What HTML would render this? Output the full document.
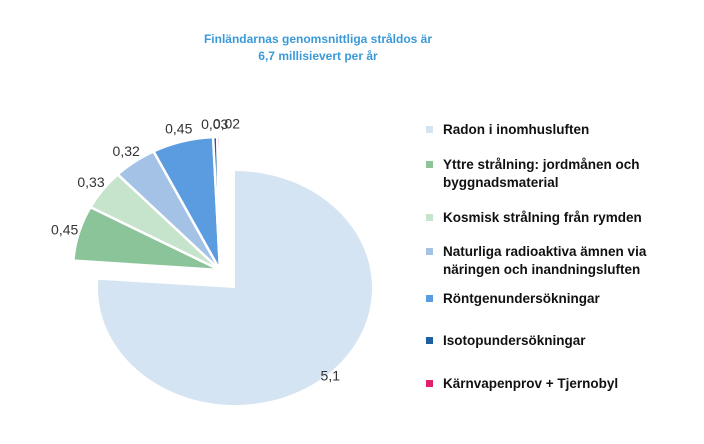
<!DOCTYPE html>
<html><head><meta charset="utf-8"><style>
body{margin:0;background:#fff;width:704px;height:444px;overflow:hidden;font-family:"Liberation Sans",sans-serif}
.t{position:absolute;left:0;width:636px;text-align:center;color:#3a9ad9;font-weight:bold;font-size:12px;line-height:17px}
.lg{position:absolute;left:426px;font-size:13.5px;font-weight:bold;color:#111;line-height:18px}
.lg i{position:absolute;left:0;top:5px;width:7px;height:7px}
.lg span{display:block;margin-left:17px}
</style></head><body>
<div class="t" style="top:31px">Finländarnas genomsnittliga stråldos är<br>6,7 millisievert per år</div>
<svg id="pie" width="704" height="444" style="position:absolute;left:0;top:0"></svg>
<div>
<div class="lg" style="top:121px"><i style="background:#d4e4f2"></i><span>Radon i inomhusluften</span></div>
<div class="lg" style="top:156px"><i style="background:#8cc49a"></i><span>Yttre strålning: jordmånen och<br>byggnadsmaterial</span></div>
<div class="lg" style="top:209px"><i style="background:#c6e3cc"></i><span>Kosmisk strålning från rymden</span></div>
<div class="lg" style="top:243px"><i style="background:#a4c2e6"></i><span>Naturliga radioaktiva ämnen via<br>näringen och inandningsluften</span></div>
<div class="lg" style="top:290px"><i style="background:#5b9be0"></i><span>Röntgenundersökningar</span></div>
<div class="lg" style="top:332px"><i style="background:#1f5fa0"></i><span>Isotopundersökningar</span></div>
<div class="lg" style="top:375px"><i style="background:#e0206a"></i><span>Kärnvapenprov + Tjernobyl</span></div>
</div>
<script>
const categories=["radon","yttre","kosmisk","naturliga","rontgen","isotop","karnvapen"];
const values=[5.1,0.45,0.33,0.32,0.45,0.03,0.02];
const valueLabels=["5,1","0,45","0,33","0,32","0,45","0,03","0,02"];
const colors=["#d4e4f2","#8cc49a","#c6e3cc","#a4c2e6","#5b9be0","#1f5fa0","#e0206a"];
const svg=document.getElementById('pie');
const NS="http://www.w3.org/2000/svg";
const total=values.reduce((a,b)=>a+b,0);
function pt(cx,cy,rx,ry,a){return [cx+rx*Math.sin(a),cy-ry*Math.cos(a)];}
let ang=0;
values.forEach((v,i)=>{
  const span=v/total*2*Math.PI;
  const big=i===0;
  const cx=big?235:220, cy=big?288:270, rx=big?137:147, ry=big?117:133;
  const p0=pt(cx,cy,rx,ry,ang), p1=pt(cx,cy,rx,ry,ang+span);
  const path=document.createElementNS(NS,'path');
  path.setAttribute('d',`M${cx},${cy}L${p0[0]},${p0[1]}A${rx},${ry} 0 ${span>Math.PI?1:0} 1 ${p1[0]},${p1[1]}Z`);
  path.setAttribute('fill',colors[i]);
  path.setAttribute('stroke','#fff');
  path.setAttribute('stroke-width',big?'0':'2.5');
  
  
  svg.appendChild(path);
  const mid=ang+span/2;
  const f=big?0.95:1.1;
  let lp=pt(cx,cy,rx*f,ry*f,mid);
  if(big) lp=pt(cx,cy,rx*1.02,ry*1.02,mid);
  const t=document.createElementNS(NS,'text');
  t.setAttribute('x',lp[0]+(i===6?8:0));
  t.setAttribute('y',lp[1]+5);
  t.setAttribute('text-anchor','middle');
  t.setAttribute('font-size','14');
  t.setAttribute('fill','#333');
  t.setAttribute('font-family','Liberation Sans, sans-serif');
  t.textContent=valueLabels[i];
  
  
  svg.appendChild(t);
  ang+=span;
});
</script>
</body></html>
